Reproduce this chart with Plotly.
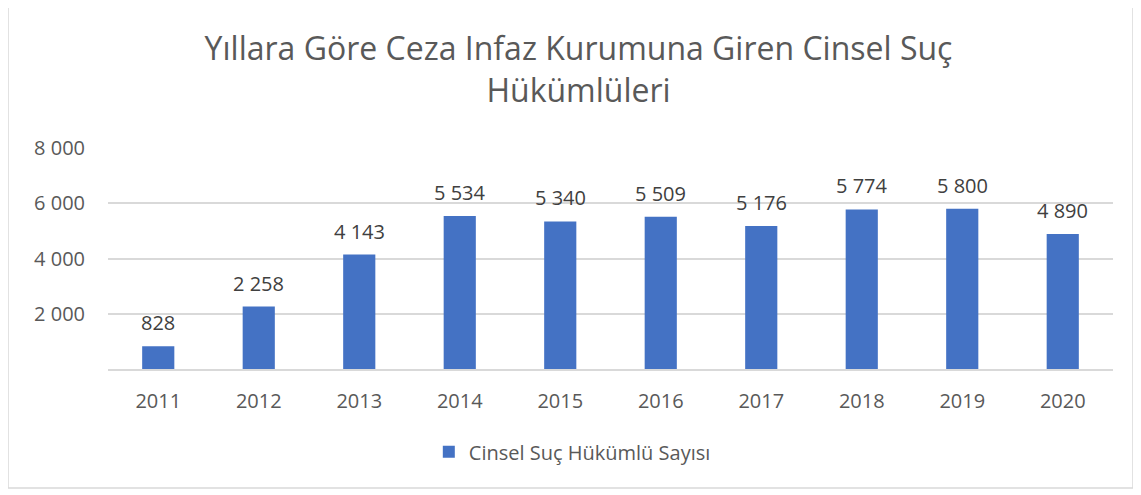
import plotly.graph_objects as go

years = ["2011", "2012", "2013", "2014", "2015", "2016", "2017", "2018", "2019", "2020"]
counts = [828, 2258, 4143, 5534, 5340, 5509, 5176, 5774, 5800, 4890]
series_name = "Cinsel Suç Hükümlü Sayısı"
title_text = "Yıllara Göre Ceza Infaz Kurumuna Giren Cinsel Suç<br>Hükümlüleri"
ytick_vals = [2000, 4000, 6000, 8000]


def fmt(v):
    return f"{v:,}".replace(",", " ")


FONT = "Open Sans"
BLUE = "#4472C4"
GREY = "#595959"

fig = go.Figure()
fig.add_trace(go.Bar(
    x=years, y=counts, name=series_name,
    marker=dict(color=BLUE, line=dict(width=0)),
    width=0.32, showlegend=True,
))

for i, v in enumerate(counts):
    fig.add_annotation(x=i, y=v, text=fmt(v), showarrow=False,
                       yanchor="bottom", yshift=8,
                       font=dict(family=FONT, size=20, color="#404040"))

fig.update_layout(
    width=1141, height=495,
    margin=dict(l=100, r=36, t=140, b=134),
    paper_bgcolor="white", plot_bgcolor="white",
    font=dict(family=FONT, color=GREY),
    title=dict(text=title_text, x=0.50, xref="container", xanchor="center",
               y=0.895, yref="container", yanchor="top",
               font=dict(family=FONT, size=32, color=GREY)),
    xaxis=dict(type="category", range=[-0.5, len(years) - 0.5],
               showgrid=False, showline=True, automargin=False,
               linecolor="#d9d9d9", linewidth=1.5, ticks="",
               tickfont=dict(family=FONT, size=20, color=GREY),
               ticklabelstandoff=13),
    yaxis=dict(range=[0, 8000], tickvals=ytick_vals, automargin=False,
               ticktext=[fmt(v) for v in ytick_vals],
               showgrid=True, gridcolor="#d9d9d9", gridwidth=1.5,
               zeroline=False, showline=False, ticks="",
               tickfont=dict(family=FONT, size=20, color=GREY),
               ticklabelstandoff=22),
    legend=dict(orientation="h", x=0.462, xanchor="center", y=-0.286,
                yanchor="top", font=dict(family=FONT, size=20, color=GREY),
                itemwidth=30),
)

fig.add_shape(type="rect", xref="paper", yref="paper",
              x0=-0.0995, x1=1.0199, y0=-0.538, y1=1.656,
              line=dict(color="#d9d9d9", width=1.5), fillcolor="rgba(0,0,0,0)")

fig.write_html("out.html")
